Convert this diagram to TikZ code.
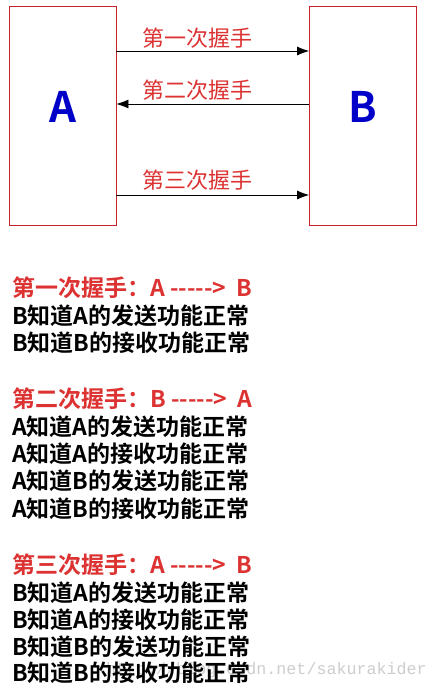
\documentclass[tikz,border=0pt]{standalone}
\usepackage{fontspec}
\usetikzlibrary{arrows.meta}
\setmainfont{Noto Sans CJK SC}[BoldFont={Noto Sans CJK SC Bold}]
\newfontfamily\markfont{Liberation Mono}
\definecolor{hsred}{RGB}{220,50,50}
\definecolor{boxred}{RGB}{200,35,45}
\definecolor{hsblue}{RGB}{0,0,200}
\definecolor{markgray}{RGB}{205,205,205}

\begin{document}
\begin{tikzpicture}[x=1pt,y=-1pt,
    box/.style={draw=boxred,line width=0.8pt,minimum width=107pt,minimum height=219pt,inner sep=0pt},
    letter/.style={text=hsblue,font=\fontsize{42}{42}\selectfont\bfseries},
    arr/.style={-{Latex[length=12pt,width=9pt]},line width=0.8pt},
    lbl/.style={text=hsred,inner sep=0pt,font=\fontsize{22}{22}\selectfont},
    txt/.style={anchor=west,inner sep=0pt,font=\fontsize{23}{23}\selectfont\bfseries},
    head/.style={txt,text=hsred},
    wm/.style={anchor=east,inner sep=0pt,text=markgray,font=\markfont\fontsize{16.7}{16.7}\selectfont}]
    \useasboundingbox (0,0) rectangle (438,693);
    \node[box] (boxA) at (62.5,115.5) {};
    \node[box] (boxB) at (363,115.5) {};
    \node[letter] (letA) at (63,107) {A};
    \node[letter] (letB) at (363,107) {B};
    \draw[arr] ([yshift=64.5pt]boxA.east) -- ([yshift=64.5pt]boxB.west);
    \draw[arr] ([yshift=11.5pt]boxB.west) -- ([yshift=11.5pt]boxA.east);
    \draw[arr] ([yshift=-79.5pt]boxA.east) -- ([yshift=-79.5pt]boxB.west);
    \node[lbl] (lab1) at (197,38) {第一次握手};
    \node[lbl] (lab2) at (197,90) {第二次握手};
    \node[lbl] (lab3) at (197,180) {第三次握手};
    % watermark
    \node[wm] (mark) at (427,670) {http://blog.csdn.net/sakurakider};
    % first handshake
    \node[head] (s1h) at (12,288) {第一次握手：A -{}-{}-{}-{}-> \ B};
    \node[txt] (s1a) at (12,316) {B知道A的发送功能正常};
    \node[txt] (s1b) at (12,343) {B知道B的接收功能正常};
    % second handshake
    \node[head] (s2h) at (12,399) {第二次握手：B -{}-{}-{}-{}-> \ A};
    \node[txt] (s2a) at (12,427) {A知道A的发送功能正常};
    \node[txt] (s2b) at (12,454) {A知道A的接收功能正常};
    \node[txt] (s2c) at (12,481) {A知道B的发送功能正常};
    \node[txt] (s2d) at (12,509) {A知道B的接收功能正常};
    % third handshake
    \node[head] (s3h) at (12,565) {第三次握手：A -{}-{}-{}-{}-> \ B};
    \node[txt] (s3a) at (12,593) {B知道A的发送功能正常};
    \node[txt] (s3b) at (12,620) {B知道A的接收功能正常};
    \node[txt] (s3c) at (12,647) {B知道B的发送功能正常};
    \node[txt] (s3d) at (12,673) {B知道B的接收功能正常};
\end{tikzpicture}
\end{document}
